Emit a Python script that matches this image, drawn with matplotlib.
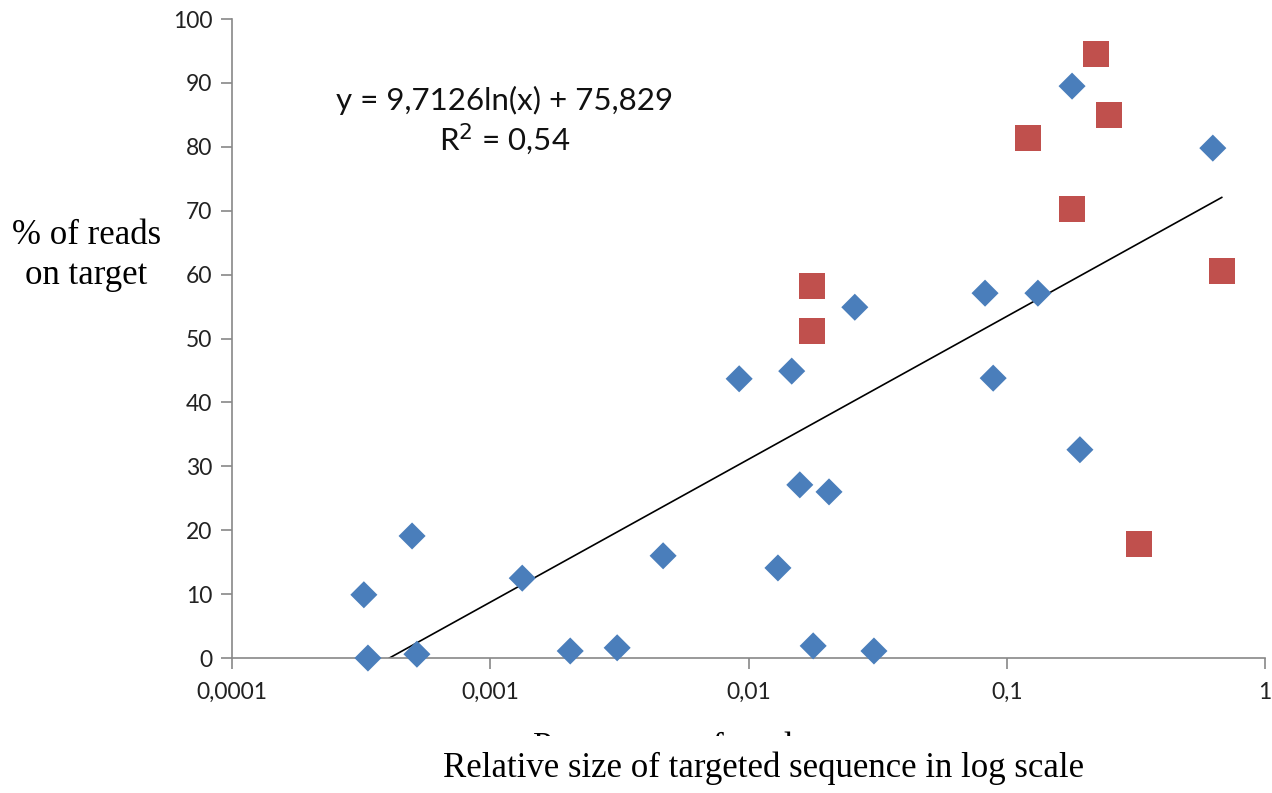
import numpy as np
import matplotlib.pyplot as plt
from matplotlib.patches import Rectangle

# blue diamonds
blue_x = [3.24e-4, 3.36e-4, 4.98e-4, 5.2e-4, 1.33e-3, 2.04e-3, 3.1e-3, 4.67e-3,
          9.2e-3, 0.0130, 0.0147, 0.0158, 0.0178, 0.0205, 0.0258, 0.0306,
          0.0824, 0.0886, 0.132, 0.179, 0.192, 0.628]
blue_y = [9.9, 0.0, 19.1, 0.6, 12.5, 1.1, 1.6, 16.0,
          43.7, 14.1, 44.9, 27.1, 1.9, 26.0, 54.9, 1.1,
          57.1, 43.8, 57.1, 89.5, 32.6, 79.8]

# red squares
red_x = [0.0176, 0.0176, 0.121, 0.179, 0.222, 0.249, 0.325, 0.680]
red_y = [58.2, 51.2, 81.4, 70.3, 94.5, 85.0, 17.8, 60.6]

# log trendline y = a ln(x) + b
a, b = 9.7126, 75.829
x_start, x_end = np.exp(-b / a), 0.68

xticks = [0.0001, 0.001, 0.01, 0.1, 1]
xticklabels = ["0,0001", "0,001", "0,01", "0,1", "1"]
yticks = list(range(0, 101, 10))

fig = plt.figure(figsize=(12.72, 7.93), dpi=100)
ax = fig.add_axes([0.1824, 0.1702, 0.8121, 0.8058])

xt = np.logspace(np.log10(x_start), np.log10(x_end), 200)
ax.plot(xt, a * np.log(xt) + b, color="black", lw=1.2, zorder=2)

ax.scatter(blue_x, blue_y, marker="D", s=190, color="#4A7EBB", edgecolors="none",
           zorder=3, clip_on=False)
ax.scatter(red_x, red_y, marker="s", s=340, color="#C0504D", edgecolors="none",
           zorder=3, clip_on=False)

ax.set_xscale("log")
ax.set_xlim(0.0001, 1)
ax.set_ylim(0, 100)
ax.set_xticks(xticks)
ax.set_xticklabels(xticklabels)
ax.minorticks_off()
ax.set_yticks(yticks)

for s in ["top", "right"]:
    ax.spines[s].set_visible(False)
for s in ["left", "bottom"]:
    ax.spines[s].set_color("#888888")
    ax.spines[s].set_linewidth(1.2)
ax.tick_params(axis="both", colors="#888888", length=8, width=1.2,
               labelsize=16.5, labelcolor="#222222")
ax.tick_params(axis="x", pad=9)
ax.tick_params(axis="y", pad=6)
for lab in ax.get_xticklabels() + ax.get_yticklabels():
    lab.set_family("Lato")

ax.text(0.264, 0.84, "y = 9,7126ln(x) + 75,829\nR$^2$ = 0,54", transform=ax.transAxes,
        ha="center", va="center", fontsize=22.5, family="Lato", linespacing=1.2,
        color="#111111")

serif = "Liberation Serif"
fig.text(0.068, 0.678, "% of reads\non target", ha="center", va="center",
         fontsize=25, family=serif, linespacing=1.3)

# axis title partly hidden behind the caption box, as in the original
fig.text(0.578, 0.046, "Percentage of reads on target", ha="center", va="baseline",
         fontsize=25, family=serif)
fig.patches.append(Rectangle((0.3, 0.0), 0.7, 0.0725, transform=fig.transFigure,
                             facecolor="white", edgecolor="none", zorder=5))
fig.text(0.6006, 0.0315, "Relative size of targeted sequence in log scale", ha="center",
         va="center", fontsize=25, family=serif, zorder=6)

fig.savefig("out.png", dpi=100)
